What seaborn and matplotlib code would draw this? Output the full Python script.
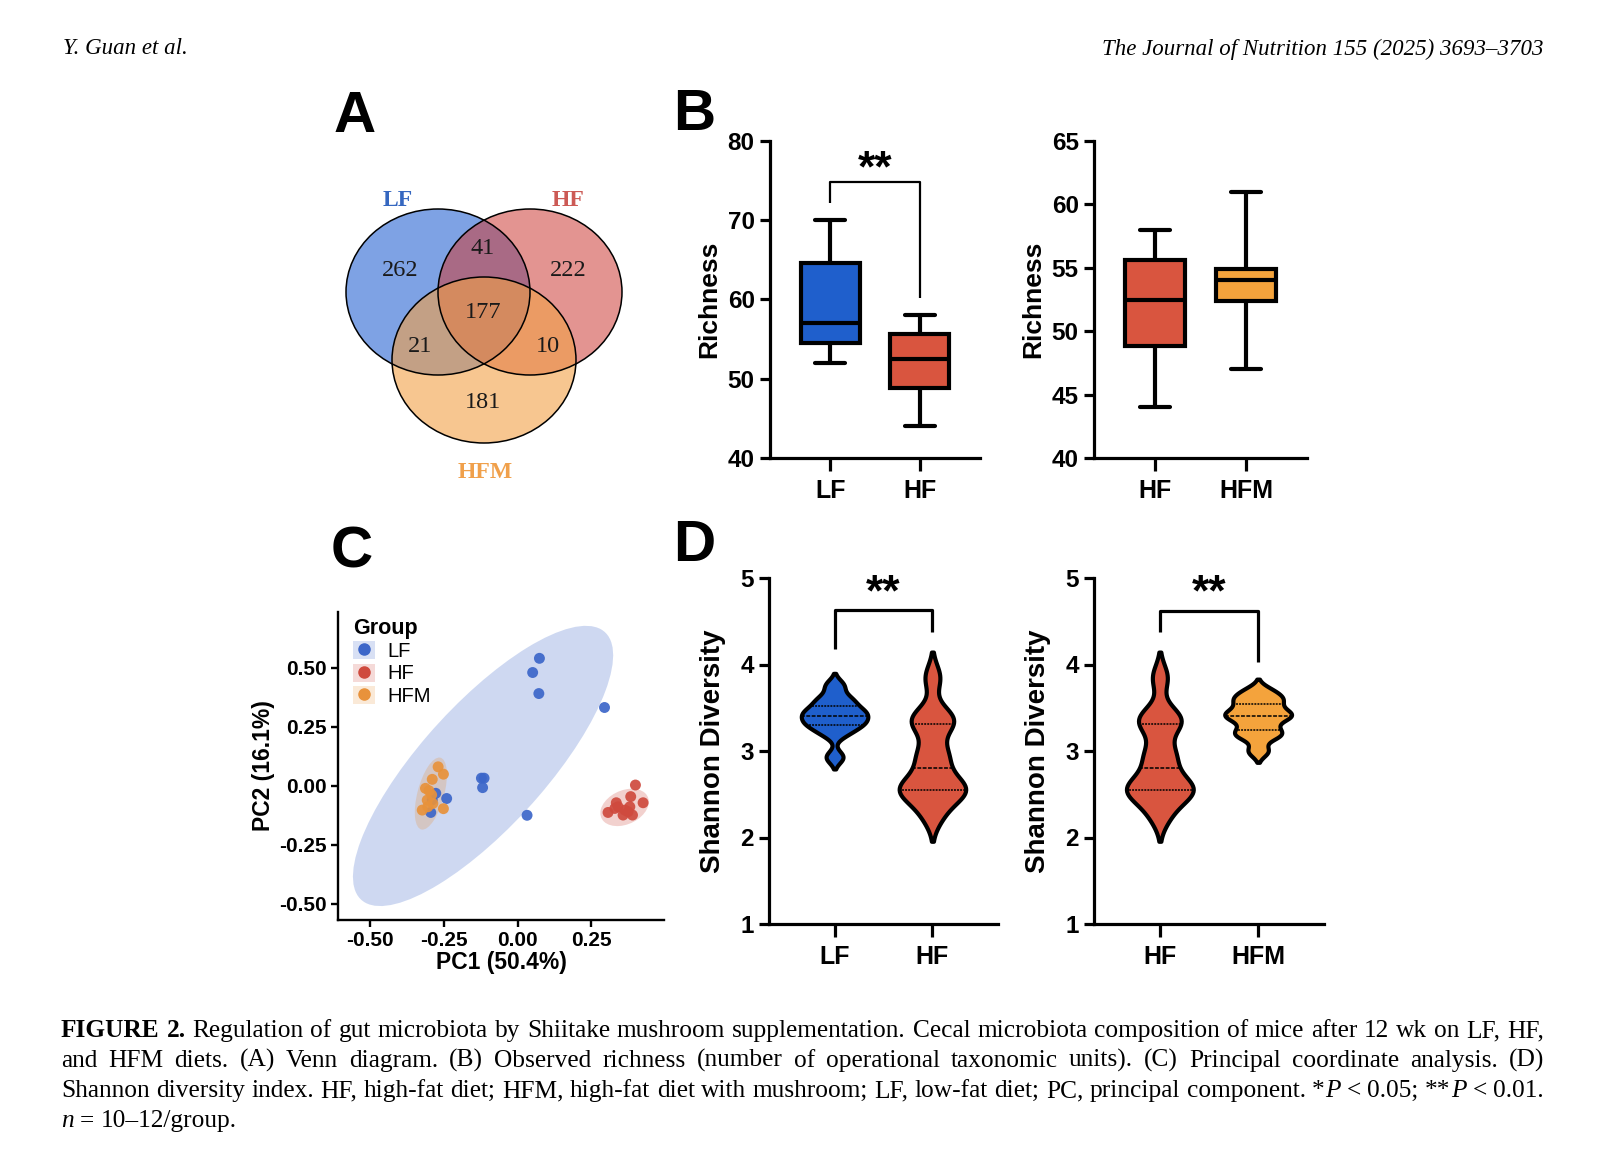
import numpy as np
import pandas as pd
import matplotlib
matplotlib.use("Agg")
import matplotlib.pyplot as plt
from matplotlib.patches import Ellipse, Patch
from matplotlib.lines import Line2D
from matplotlib.colors import to_rgba
import seaborn as sns

# ---------------- data ----------------
# Venn (A)
venn_regions = ['LF', 'HF', 'HFM', 'LF&HF', 'LF&HFM', 'HF&HFM', 'LF&HF&HFM']
venn_counts = [262, 222, 181, 41, 21, 10, 177]

# Observed richness (B): min, Q1, median, Q3, max
rich_lf = [52.0, 54.5, 57.0, 64.6, 70.0]
rich_hf = [44.0, 48.8, 52.5, 55.6, 58.0]
rich_hfm = [47.0, 52.4, 54.0, 54.9, 61.0]

# PCoA (C)
pc1_lf = [0.074, 0.051, 0.072, 0.295, -0.123, -0.114, -0.119, -0.241, 0.032, -0.295, -0.278, -0.29]
pc2_lf = [0.539, 0.479, 0.390, 0.331, 0.032, 0.032, -0.008, -0.054, -0.125, -0.113, -0.032, -0.06]
pc1_hf = [0.400, 0.384, 0.426, 0.335, 0.307, 0.341, 0.364, 0.381, 0.358, 0.390, 0.375, 0.330]
pc2_hf = [0.003, -0.046, -0.072, -0.072, -0.113, -0.089, -0.103, -0.089, -0.124, -0.124, -0.110, -0.096]
pc1_hfm = [-0.270, -0.252, -0.290, -0.313, -0.301, -0.292, -0.307, -0.324, -0.252, -0.288, -0.305]
pc2_hfm = [0.080, 0.049, 0.027, -0.011, -0.021, -0.039, -0.061, -0.103, -0.097, -0.075, -0.089]

# Shannon diversity (D)
shan_lf = [2.93, 3.20, 3.28, 3.32, 3.36, 3.41, 3.45, 3.48, 3.56, 3.62, 3.76]
shan_hf = [2.25, 2.45, 2.53, 2.56, 2.58, 2.70, 2.90, 3.00, 3.30, 3.35, 3.42, 3.85]
shan_hfm = [3.00, 3.17, 3.20, 3.28, 3.38, 3.41, 3.43, 3.50, 3.58, 3.62, 3.70]

c_lf, c_hf, c_hfm = "#1f5fcc", "#d9553f", "#f4a33c"
pca_pal = {'LF': "#3c66c9", 'HF': "#cf4a3e", 'HFM': "#e8923b"}

# ---------------- style ----------------
sns.set_style("ticks")
plt.rcParams['font.family'] = ['Liberation Sans', 'DejaVu Sans']
plt.rcParams['axes.edgecolor'] = 'black'
plt.rcParams['xtick.color'] = 'black'
plt.rcParams['ytick.color'] = 'black'
plt.rcParams['text.color'] = 'black'
plt.rcParams['axes.labelcolor'] = 'black'

W, H = 1600, 1174
fig = plt.figure(figsize=(W / 100, H / 100), dpi=100)

# overlay axes in pixel units for venn, header and caption
ov = fig.add_axes([0, 0, 1, 1])
ov.set_xlim(0, W)
ov.set_ylim(H, 0)
ov.axis('off')


def px_axes(x0, y0, x1, y1):
    return fig.add_axes([x0 / W, 1 - y1 / H, (x1 - x0) / W, (y1 - y0) / H])


def prism(ax, lw=2.3):
    sns.despine(ax=ax)
    for s in ['left', 'bottom']:
        ax.spines[s].set_linewidth(lw)
    ax.tick_params(axis='both', width=lw, length=7, pad=4)
    ax.tick_params(axis='y', labelsize=17.5)
    ax.tick_params(axis='x', labelsize=18, length=9, pad=6)
    for lab in ax.get_xticklabels() + ax.get_yticklabels():
        lab.set_fontweight('bold')
    ax.set_xlabel('')


def bracket(ax, x0, x1, y0, ytop, y1, lw, star_y, star_size):
    ax.plot([x0, x0, x1, x1], [y0, ytop, ytop, y1], color='black', lw=lw,
            clip_on=False, solid_capstyle='butt')
    ax.text((x0 + x1) / 2, star_y, '**', ha='center', va='center',
            fontsize=star_size, fontweight='bold', clip_on=False)


def cov_trob(x, nu=5, maxit=25, tol=0.01):
    # robust t covariance as in MASS::cov.trob (used by ggplot2 stat_ellipse)
    n, p = x.shape
    loc = x.mean(0)
    w = np.ones(n)
    for _ in range(maxit):
        w0 = w
        X = x - loc
        A = np.sqrt(w / w.sum())[:, None] * X
        _, d, vt = np.linalg.svd(A, full_matrices=False)
        wX = X @ vt.T @ np.diag(1 / d)
        Q = (wX ** 2).sum(1)
        w = (nu + p) / (nu + Q)
        loc = (w[:, None] * x).sum(0) / w.sum()
        if np.all(np.abs(w - w0) < tol):
            break
    cov = (np.sqrt(w)[:, None] * X).T @ (np.sqrt(w)[:, None] * X) / n
    return loc, cov


# ---------------- header ----------------
ov.text(63, 49, 'Y. Guan et al.', family='Liberation Serif', style='italic',
        fontsize=16.5, va='center', ha='left')
ov.text(1544, 49, 'The Journal of Nutrition 155 (2025) 3693\u20133703',
        family='Liberation Serif', style='italic', fontsize=16.5, va='center', ha='right')

# panel letters
for letter, (lx, ly) in zip('ABCD', [(355, 117), (694, 115), (352, 553), (694, 546)]):
    ov.text(lx, ly, letter, fontsize=42, fontweight='bold', ha='center', va='center')

# ---------------- A: Venn ----------------
venn_geo = {'LF': ((438, 292), "#2864d2", 0.6),
            'HF': ((530, 292), "#cd3c37", 0.55),
            'HFM': ((484, 360), "#f2a046", 0.6)}
for name in venn_regions[:3]:
    (cx, cy), col, a = venn_geo[name]
    ov.add_patch(Ellipse((cx, cy), 184, 166, facecolor=to_rgba(col, a), edgecolor='none'))
for name in venn_regions[:3]:
    (cx, cy), col, a = venn_geo[name]
    ov.add_patch(Ellipse((cx, cy), 184, 166, facecolor='none', edgecolor='black', lw=1.1))

count_pos = [(400, 270), (568, 270), (483, 403), (483, 248), (420, 347), (548, 347), (483, 313)]
for (tx, ty), n in zip(count_pos, venn_counts):
    ov.text(tx, ty, str(n), family='Liberation Serif', fontsize=17.5,
            ha='center', va='center', color='#1a1a1a')
label_pos = {'LF': (398, 200, "#3567c0"), 'HF': (568, 200, "#cc5a55"), 'HFM': (485, 473, "#f0a04b")}
for name in venn_regions[:3]:
    tx, ty, col = label_pos[name]
    ov.text(tx, ty, name, family='Liberation Serif', fontweight='bold', fontsize=17,
            ha='center', va='center', color=col)

# ---------------- B: richness boxplots ----------------
df_b1 = pd.DataFrame({'group': ['LF'] * len(rich_lf) + ['HF'] * len(rich_hf),
                      'richness': rich_lf + rich_hf})
df_b2 = pd.DataFrame({'group': ['HF'] * len(rich_hf) + ['HFM'] * len(rich_hfm),
                      'richness': rich_hf + rich_hfm})
box_pal = {'LF': c_lf, 'HF': c_hf, 'HFM': c_hfm}

ax_b1 = px_axes(770, 141, 980, 458)
sns.boxplot(data=df_b1, x='group', y='richness', hue='group', order=['LF', 'HF'],
            palette=box_pal, whis=np.inf, width=0.66, linewidth=3.0, linecolor='black',
            saturation=1, legend=False, ax=ax_b1)
ax_b1.set_ylim(40, 80)
ax_b1.set_yticks([40, 50, 60, 70, 80])
ax_b1.set_xlim(-0.67, 1.67)
ax_b1.set_ylabel('Richness', fontsize=19, fontweight='bold', labelpad=5)
prism(ax_b1)
bracket(ax_b1, 0, 1, 72.2, 74.8, 60.2, 1.6, 76.4, 32)

ax_b2 = px_axes(1094, 141, 1307, 458)
sns.boxplot(data=df_b2, x='group', y='richness', hue='group', order=['HF', 'HFM'],
            palette=box_pal, whis=np.inf, width=0.66, linewidth=3.0, linecolor='black',
            saturation=1, legend=False, ax=ax_b2)
ax_b2.set_ylim(40, 65)
ax_b2.set_yticks([40, 45, 50, 55, 60, 65])
ax_b2.set_xlim(-0.67, 1.67)
ax_b2.set_ylabel('Richness', fontsize=19, fontweight='bold', labelpad=5)
prism(ax_b2)

# ---------------- C: PCoA ----------------
df_pc = pd.DataFrame({
    'pc1': pc1_lf + pc1_hf + pc1_hfm,
    'pc2': pc2_lf + pc2_hf + pc2_hfm,
    'group': ['LF'] * len(pc1_lf) + ['HF'] * len(pc1_hf) + ['HFM'] * len(pc1_hfm)})

# 95% F quantiles F(0.95, 2, n-1) as used by stat_ellipse
f95 = {10: 4.103, 11: 3.982, 12: 3.885}

ax_c = px_axes(338, 612, 664, 920)
for g in ['LF', 'HF', 'HFM']:
    sub = df_pc[df_pc['group'] == g]
    xy = sub[['pc1', 'pc2']].to_numpy()
    loc, cov = cov_trob(xy)
    vals, vecs = np.linalg.eigh(cov)
    r = np.sqrt(2 * f95[len(sub) - 1])
    ang = np.degrees(np.arctan2(vecs[1, 1], vecs[0, 1]))
    ax_c.add_patch(Ellipse(loc, 2 * r * np.sqrt(vals[1]), 2 * r * np.sqrt(vals[0]),
                           angle=ang, facecolor=to_rgba(pca_pal[g], 0.25),
                           edgecolor='none', zorder=1))
sns.scatterplot(data=df_pc, x='pc1', y='pc2', hue='group', palette=pca_pal, s=62,
                edgecolor='none', alpha=0.92, legend=False, zorder=3, ax=ax_c)
ax_c.set_xlim(-0.61, 0.497)
ax_c.set_ylim(-0.568, 0.735)
ax_c.set_xticks([-0.5, -0.25, 0, 0.25])
ax_c.set_xticklabels(['-0.50', '-0.25', '0.00', '0.25'])
ax_c.set_yticks([-0.5, -0.25, 0, 0.25, 0.5])
ax_c.set_yticklabels(['-0.50', '-0.25', '0.00', '0.25', '0.50'])
sns.despine(ax=ax_c)
for s in ['left', 'bottom']:
    ax_c.spines[s].set_linewidth(1.7)
ax_c.tick_params(width=1.7, length=5, labelsize=15, pad=3)
for lab in ax_c.get_xticklabels() + ax_c.get_yticklabels():
    lab.set_fontweight('bold')
ax_c.set_xlabel('PC1 (50.4%)', fontsize=16.5, fontweight='bold', labelpad=1)
ax_c.set_ylabel('PC2 (16.1%)', fontsize=16.5, fontweight='bold', labelpad=3)
handles = [(Patch(facecolor=to_rgba(pca_pal[g], 0.2), edgecolor='none'),
            Line2D([], [], marker='o', ls='none', color=pca_pal[g], markersize=8))
           for g in ['LF', 'HF', 'HFM']]
leg = ax_c.legend(handles, ['LF', 'HF', 'HFM'], title='Group', loc='upper left',
                  bbox_to_anchor=(-0.01, 1.04), frameon=False, fontsize=14.5,
                  handlelength=1.1, handleheight=1.0, handletextpad=0.6,
                  labelspacing=0.12, alignment='left')
leg.get_title().set_fontweight('bold')
leg.get_title().set_fontsize(15.5)

# ---------------- D: Shannon violins ----------------
df_d1 = pd.DataFrame({'group': ['LF'] * len(shan_lf) + ['HF'] * len(shan_hf),
                      'shannon': shan_lf + shan_hf})
df_d2 = pd.DataFrame({'group': ['HF'] * len(shan_hf) + ['HFM'] * len(shan_hfm),
                      'shannon': shan_hf + shan_hfm})

for df_d, order, (x0, x1), br in [
        (df_d1, ['LF', 'HF'], (769, 998), (4.18, 4.63, 4.38)),
        (df_d2, ['HF', 'HFM'], (1094, 1324), (4.38, 4.62, 4.03))]:
    ax = px_axes(x0, 578, x1, 924)
    sns.violinplot(data=df_d, x='group', y='shannon', hue='group', order=order,
                   palette=box_pal, inner='quart', density_norm='width', width=0.68,
                   bw_adjust=0.5, cut=2, linewidth=3.0, linecolor='black', saturation=1,
                   inner_kws=dict(linewidth=1.1), legend=False, ax=ax)
    ax.set_ylim(1, 5)
    ax.set_yticks([1, 2, 3, 4, 5])
    ax.set_xlim(-0.67, 1.67)
    ax.set_ylabel('Shannon Diversity', fontsize=20, fontweight='bold', labelpad=10)
    prism(ax)
    bracket(ax, 0, 1, br[0], br[1], br[2], 2.3, 4.82, 32)

# ---------------- caption (justified) ----------------
caption = [
    [("FIGURE 2.", 'b'), ("  Regulation of gut microbiota by Shiitake mushroom supplementation. "
                          "Cecal microbiota composition of mice after 12 wk on LF, HF,", 'r')],
    [("and HFM diets. (A) Venn diagram. (B) Observed richness (number of operational "
      "taxonomic units). (C) Principal coordinate analysis. (D)", 'r')],
    [("Shannon diversity index. HF, high-fat diet; HFM, high-fat diet with mushroom; LF, "
      "low-fat diet; PC, principal component. *", 'r'), ("P", 'i'), (" < 0.05; **", 'r'),
     ("P", 'i'), (" < 0.01.", 'r')],
    [("n", 'i'), (" = 10\u201312/group.", 'r')],
]
styles = {'r': dict(), 'b': dict(fontweight='bold'), 'i': dict(style='italic')}


def split_words(segments):
    words = []
    new_word = True
    for txt, st in segments:
        for i, p in enumerate(txt.split(' ')):
            if i > 0:
                new_word = True
            if p == '':
                continue
            if new_word or not words:
                words.append([(p, st)])
            else:
                words[-1].append((p, st))
            new_word = False
    return words


renderer = fig.canvas.get_renderer()
x_left, x_right = 61, 1544
baselines = [1037, 1067, 1097, 1127]
line_words = [split_words(segs) for segs in caption]


def make_words(words, fs, yb):
    placed = []
    for w in words:
        arts = []
        for txt, st in w:
            t = ov.text(0, yb, txt, family='Liberation Serif', fontsize=fs,
                        va='baseline', ha='left', **styles[st])
            arts.append((t, t.get_window_extent(renderer).width))
        placed.append(arts)
    return placed


# pick the largest size at which every justified line keeps at least a normal space
fs0 = 16.0
fits = []
for words in line_words[:-1]:
    placed = make_words(words, fs0, 0)
    total = sum(wd for arts in placed for _, wd in arts)
    need = total + (len(words) - 1) * 0.25 * fs0 * 100 / 72
    fits.append(fs0 * (x_right - x_left) / need)
    for arts in placed:
        for t, _ in arts:
            t.remove()
cap_fs = min(fits)

for li, (words, yb) in enumerate(zip(line_words, baselines)):
    placed = make_words(words, cap_fs, yb)
    widths = [sum(wd for _, wd in arts) for arts in placed]
    if li < len(line_words) - 1:
        gap = (x_right - x_left - sum(widths)) / (len(words) - 1)
    else:
        gap = 0.25 * cap_fs * 100 / 72
    x = x_left
    for arts in placed:
        for t, wd in arts:
            t.set_x(x)
            x += wd
        x += gap

fig.savefig('out.png', dpi=100)
